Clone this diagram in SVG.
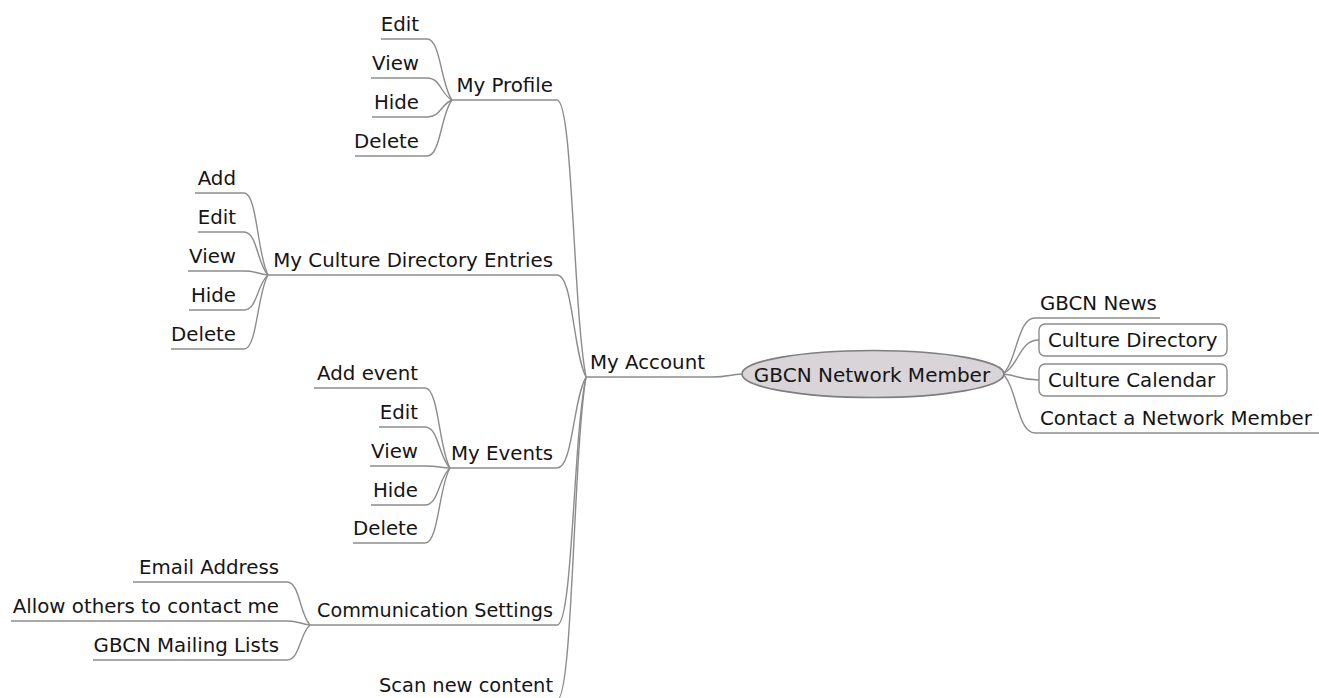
<svg xmlns="http://www.w3.org/2000/svg" width="1319" height="698" viewBox="0 0 1319 698">
<style>
.t{font-family:"DejaVu Sans","Liberation Sans",sans-serif;font-size:19.8px;fill:#151515}
.r{text-anchor:end}
.ul,.e{stroke:#8c8c8c;stroke-width:1.4;fill:none}
.box{fill:#fff;stroke:#8c8c8c;stroke-width:1.4}
.root{fill:#d8d4d8;stroke:#7e7e7e;stroke-width:1.6}
.rt{font-family:"DejaVu Sans","Liberation Sans",sans-serif;font-size:20px;fill:#151515;text-anchor:middle}
</style>
<rect width="1319" height="698" fill="#fff"/>
<g id="connectors">
<path class="e" d="M427 39 C440.75 39 440.75 84.75 452 100"/>
<path class="e" d="M427 78 C440.75 78 440.75 94.5 452 100"/>
<path class="e" d="M427 117 C440.75 117 440.75 104.25 452 100"/>
<path class="e" d="M427 156 C440.75 156 440.75 114 452 100"/>
<path class="e" d="M244 193 C257.2 193 257.2 254.5 268 275"/>
<path class="e" d="M244 232 C257.2 232 257.2 264.25 268 275"/>
<path class="e" d="M244 271 C257.2 271 257.2 274 268 275"/>
<path class="e" d="M244 310 C257.2 310 257.2 283.75 268 275"/>
<path class="e" d="M244 349 C257.2 349 257.2 293.5 268 275"/>
<path class="e" d="M425 388 C438.75 388 438.75 448 450 468"/>
<path class="e" d="M425 427 C438.75 427 438.75 457.75 450 468"/>
<path class="e" d="M425 466 C438.75 466 438.75 467.5 450 468"/>
<path class="e" d="M425 505 C438.75 505 438.75 477.25 450 468"/>
<path class="e" d="M425 543 C438.75 543 438.75 486.75 450 468"/>
<path class="e" d="M287 582 C299.65 582 299.65 614.25 310 625"/>
<path class="e" d="M287 621 C299.65 621 299.65 624 310 625"/>
<path class="e" d="M287 660 C299.65 660 299.65 633.75 310 625"/>
<path class="e" d="M557 100 C572.95 100 572.95 307.75 586 377"/>
<path class="e" d="M557 275 C572.95 275 572.95 351.5 586 377"/>
<path class="e" d="M557 468 C572.95 468 572.95 399.75 586 377"/>
<path class="e" d="M557 625 C572.95 625 572.95 439 586 377"/>
<path class="e" d="M557 700 C572.95 700 572.95 457.75 586 377"/>
<path class="e" d="M712 377 C728.5 377 728.5 374.75 742 374"/>
<path class="e" d="M1035 318 C1017.4 318 1017.4 360 1003 374"/>
<path class="e" d="M1039 340 C1019.2 340 1019.2 365.5 1003 374"/>
<path class="e" d="M1039 380 C1019.2 380 1019.2 375.5 1003 374"/>
<path class="e" d="M1035 433 C1017.4 433 1017.4 388.75 1003 374"/>
</g>
<g id="root">
<ellipse class="root" cx="873" cy="374" rx="131" ry="23.5"/>
<text class="rt" x="872" y="382">GBCN Network Member</text>
</g>
<g id="my-account">
<line class="ul" x1="586" y1="377" x2="712" y2="377"/>
<text class="t" x="590" y="369">My Account</text>
</g>
<g id="my-profile">
<line class="ul" x1="452" y1="100" x2="557" y2="100"/>
<text class="t r" x="553" y="92">My Profile</text>
</g>
<g id="mp-edit"><line class="ul" x1="381" y1="39" x2="427" y2="39"/><text class="t r" x="419" y="31">Edit</text></g>
<g id="mp-view"><line class="ul" x1="371" y1="78" x2="427" y2="78"/><text class="t r" x="419" y="70">View</text></g>
<g id="mp-hide"><line class="ul" x1="372" y1="117" x2="427" y2="117"/><text class="t r" x="419" y="109">Hide</text></g>
<g id="mp-delete"><line class="ul" x1="355" y1="156" x2="427" y2="156"/><text class="t r" x="419" y="148">Delete</text></g>
<g id="my-culture-directory-entries">
<line class="ul" x1="268" y1="275" x2="557" y2="275"/>
<text class="t r" x="553" y="267">My Culture Directory Entries</text>
</g>
<g id="cd-add"><line class="ul" x1="195" y1="193" x2="244" y2="193"/><text class="t r" x="236" y="185">Add</text></g>
<g id="cd-edit"><line class="ul" x1="198" y1="232" x2="244" y2="232"/><text class="t r" x="236" y="224">Edit</text></g>
<g id="cd-view"><line class="ul" x1="188" y1="271" x2="244" y2="271"/><text class="t r" x="236" y="263">View</text></g>
<g id="cd-hide"><line class="ul" x1="189" y1="310" x2="244" y2="310"/><text class="t r" x="236" y="302">Hide</text></g>
<g id="cd-delete"><line class="ul" x1="171" y1="349" x2="244" y2="349"/><text class="t r" x="236" y="341">Delete</text></g>
<g id="my-events">
<line class="ul" x1="450" y1="468" x2="557" y2="468"/>
<text class="t r" x="553" y="460">My Events</text>
</g>
<g id="ev-add"><line class="ul" x1="314" y1="388" x2="425" y2="388"/><text class="t r" x="418" y="380">Add event</text></g>
<g id="ev-edit"><line class="ul" x1="379" y1="427" x2="425" y2="427"/><text class="t r" x="418" y="419">Edit</text></g>
<g id="ev-view"><line class="ul" x1="370" y1="466" x2="425" y2="466"/><text class="t r" x="418" y="458">View</text></g>
<g id="ev-hide"><line class="ul" x1="371" y1="505" x2="425" y2="505"/><text class="t r" x="418" y="497">Hide</text></g>
<g id="ev-delete"><line class="ul" x1="353" y1="543" x2="425" y2="543"/><text class="t r" x="418" y="535">Delete</text></g>
<g id="communication-settings">
<line class="ul" x1="310" y1="625" x2="557" y2="625"/>
<text class="t r" x="553" y="617" textLength="236" lengthAdjust="spacingAndGlyphs">Communication Settings</text>
</g>
<g id="cs-email"><line class="ul" x1="133" y1="582" x2="287" y2="582"/><text class="t r" x="279" y="574">Email Address</text></g>
<g id="cs-allow"><line class="ul" x1="11" y1="621" x2="287" y2="621"/><text class="t r" x="279" y="613">Allow others to contact me</text></g>
<g id="cs-mailing"><line class="ul" x1="93" y1="660" x2="287" y2="660"/><text class="t r" x="279" y="652">GBCN Mailing Lists</text></g>
<g id="scan-new-content">
<line class="ul" x1="378" y1="700" x2="557" y2="700"/>
<text class="t r" x="553" y="692" textLength="174" lengthAdjust="spacingAndGlyphs">Scan new content</text>
</g>
<g id="gbcn-news">
<line class="ul" x1="1035" y1="318" x2="1160" y2="318"/>
<text class="t" x="1040" y="310">GBCN News</text>
</g>
<g id="culture-directory">
<rect class="box" x="1039" y="324" width="188" height="32" rx="6"/>
<text class="t" x="1048" y="347">Culture Directory</text>
</g>
<g id="culture-calendar">
<rect class="box" x="1039" y="364" width="188" height="32" rx="6"/>
<text class="t" x="1048" y="387">Culture Calendar</text>
</g>
<g id="contact-member">
<line class="ul" x1="1035" y1="433" x2="1319" y2="433"/>
<text class="t" x="1040" y="425">Contact a Network Member</text>
</g>
</svg>
